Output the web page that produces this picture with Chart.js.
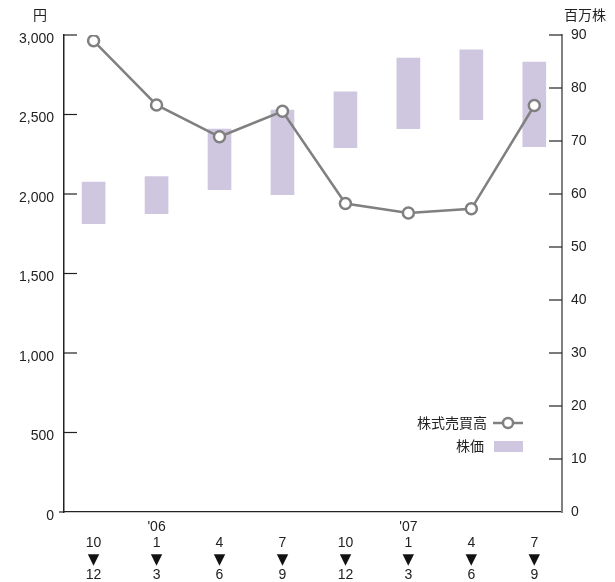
<!DOCTYPE html>
<html>
<head>
<meta charset="utf-8">
<script src="https://cdn.jsdelivr.net/npm/chart.js@4/dist/chart.umd.min.js"></script>
<style>
  html, body { margin: 0; padding: 0; background: #fff; }
  canvas { display: block; }
</style>
</head>
<body>
<canvas id="myChart" width="615" height="582"></canvas>
<script>
/* данные графика */
const categories = ['2005/10-12', '2006/1-3', '2006/4-6', '2006/7-9', '2006/10-12', '2007/1-3', '2007/4-6', '2007/7-9'];
const years = ['', "'06", '', '', '', "'07", '', ''];
const startMonths = ['10', '1', '4', '7', '10', '1', '4', '7'];
const endMonths = ['12', '3', '6', '9', '12', '3', '6', '9'];

const priceLow = [1813, 1876, 2027, 1996, 2291, 2411, 2467, 2298];   // 株価 (円)
const priceHigh = [2075, 2109, 2409, 2528, 2642, 2855, 2906, 2830];
const volume = [88.9, 76.8, 70.8, 75.6, 58.2, 56.4, 57.2, 76.7];     // 株式売買高 (百万株)

const numFont = { family: '"Liberation Sans", Arial, sans-serif', size: 14 };
const jpFont = '14px "Noto Sans CJK JP", sans-serif';

/* рисует внутренние засечки, стрелки под месяцами, подписи единиц и легенду */
const decor = {
  id: 'decor',
  afterDraw(chart) {
    const ctx = chart.ctx;
    const a = chart.chartArea;
    const x = chart.scales.x, y = chart.scales.y, y2 = chart.scales.y2;
    ctx.save();
    ctx.strokeStyle = '#222';
    ctx.lineWidth = 1.2;
    y.ticks.forEach(t => {
      if (t.value === 0) return;
      const p = y.getPixelForValue(t.value);
      ctx.beginPath(); ctx.moveTo(a.left, p); ctx.lineTo(a.left + 13, p); ctx.stroke();
    });
    y2.ticks.forEach(t => {
      if (t.value === 0) return;
      const p = y2.getPixelForValue(t.value);
      ctx.beginPath(); ctx.moveTo(a.right, p); ctx.lineTo(a.right - 13, p); ctx.stroke();
    });
    // нижняя линия чуть левее оси
    ctx.beginPath(); ctx.moveTo(a.left - 5, a.bottom); ctx.lineTo(a.left, a.bottom); ctx.stroke();

    // ▼ между месяцами
    ctx.fillStyle = '#111';
    ctx.font = '15px "DejaVu Sans", sans-serif';
    ctx.textAlign = 'center';
    ctx.textBaseline = 'middle';
    categories.forEach((c, i) => {
      ctx.fillText('▼', x.getPixelForValue(i), 560);
    });

    // единицы
    ctx.fillStyle = '#222';
    ctx.font = jpFont;
    ctx.fillText('円', 40, 15);
    ctx.fillText('百万株', 585, 15);

    // легенда
    ctx.textAlign = 'right';
    ctx.fillText('株式売買高', 487, 423);
    ctx.fillText('株価', 484, 446);
    ctx.strokeStyle = '#808080';
    ctx.lineWidth = 2.5;
    ctx.beginPath(); ctx.moveTo(493, 423); ctx.lineTo(523, 423); ctx.stroke();
    ctx.beginPath(); ctx.arc(508, 423, 5, 0, Math.PI * 2);
    ctx.fillStyle = '#fff'; ctx.fill(); ctx.stroke();
    ctx.fillStyle = '#cfc7e0';
    ctx.fillRect(494, 441, 29, 11);
    ctx.restore();
  }
};

const chart = new Chart(document.getElementById('myChart'), {
  data: {
    datasets: [{
      type: 'line',
      label: '株式売買高',
      yAxisID: 'y2',
      order: 0,
      data: volume.map((v, i) => ({ x: i, y: v })),
      borderColor: '#808080',
      borderWidth: 2.5,
      pointRadius: 5.5,
      pointBorderWidth: 2.5,
      pointBackgroundColor: '#fff',
      pointBorderColor: '#808080',
      tension: 0
    }, {
      type: 'bar',
      label: '株価',
      yAxisID: 'y',
      order: 1,
      data: priceLow.map((v, i) => ({ x: i, y: [v, priceHigh[i]] })),
      backgroundColor: '#cfc7e0',
      borderWidth: 0,
      barThickness: 23
    }]
  },
  options: {
    responsive: false,
    animation: false,
    layout: { padding: { top: 35, left: 0, right: 0, bottom: 0 } },
    plugins: { legend: { display: false }, tooltip: { enabled: false } },
    scales: {
      x: {
        type: 'linear',
        offset: false,
        min: -0.47,
        max: 7.44,
        afterBuildTicks: (s) => { s.ticks = categories.map((c, i) => ({ value: i })); },
        afterFit: (s) => { s.height = 70; },
        grid: { display: false, drawTicks: false, offset: false },
        border: { display: true, color: '#222', width: 1.2 },
        ticks: {
          autoSkip: false,
          maxRotation: 0,
          padding: 7,
          color: '#222',
          font: Object.assign({}, numFont, { lineHeight: '16px' }),
          callback: (v) => [years[v], startMonths[v], '', endMonths[v]]
        }
      },
      y: {
        position: 'left',
        min: 0,
        max: 3000,
        afterFit: (s) => { s.width = 64; },
        grid: { display: false, drawTicks: false },
        border: { display: true, color: '#222', width: 1.5 },
        ticks: {
          stepSize: 500,
          padding: 10,
          labelOffset: 4,
          color: '#222',
          font: numFont,
          callback: (v) => v.toLocaleString('en-US')
        }
      },
      y2: {
        position: 'right',
        min: 0,
        max: 90,
        afterFit: (s) => { s.width = 53; },
        grid: { display: false, drawTicks: false },
        border: { display: true, color: '#808080', width: 2 },
        ticks: {
          stepSize: 10,
          padding: 9,
          color: '#222',
          font: numFont
        }
      }
    }
  },
  plugins: [decor]
});
</script>
</body>
</html>
